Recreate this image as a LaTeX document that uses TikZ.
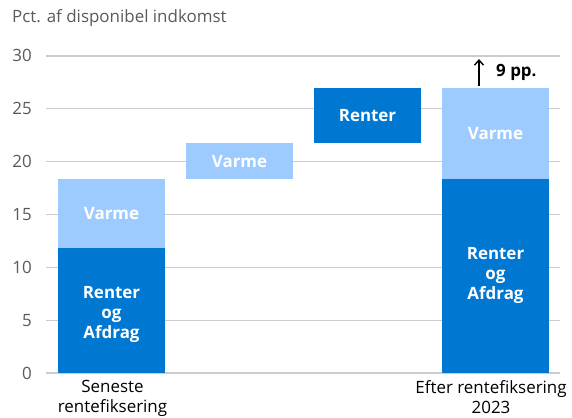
\documentclass[tikz,border=0pt]{standalone}
\usepackage{fontspec}
\setmainfont[Ligatures=NoCommon]{Open Sans}
\usetikzlibrary{arrows.meta}
\definecolor{darkblue}{RGB}{0,120,210}
\definecolor{lightblue}{RGB}{158,203,255}
\definecolor{gridgray}{RGB}{204,204,204}
\definecolor{textgray}{RGB}{90,90,90}
\begin{document}
\begin{tikzpicture}[x=1bp,y=10.57bp,font=\fontsize{17}{20}\selectfont]
\tikzstyle{tick}=[anchor=east, text=textgray, inner sep=0pt];
\tikzstyle{lab}=[text=white, font=\fontsize{17}{20}\selectfont\bfseries, align=center];
\tikzstyle{cat}=[anchor=north, align=center, inner sep=0pt, font=\fontsize{17}{20}\selectfont];
\useasboundingbox (0,-4.163) rectangle (572,35.29);
% grid and y ticks
\foreach \v in {0,5,...,30} {
  \draw [gridgray, line width=1.3bp] (46,\v) -- (560,\v);
  \node [tick] (t\v) at (32,\v) {\v};
}
\node [anchor=west, text=textgray, inner sep=0pt] (title) at (12,33.6) {Pct. af disponibel indkomst};
% bars
\fill [darkblue] (58,0) rectangle (165,11.83);
\fill [lightblue] (58,11.83) rectangle (165,18.35);
\fill [lightblue] (186,18.35) rectangle (293,21.76);
\fill [darkblue] (314,21.76) rectangle (421,26.96);
\fill [darkblue] (442,0) rectangle (549,18.35);
\fill [lightblue] (442,18.35) rectangle (549,26.96);
% bar labels
\node [lab] (v1) at (111.5,5.55) {Renter\\og\\Afdrag};
\node [lab] (v2) at (111.5,15.1) {Varme};
\node [lab] (v3) at (239.5,20.05) {Varme};
\node [lab] (v4) at (367.5,24.36) {Renter};
\node [lab] (v5) at (495.5,9.2) {Renter\\og\\Afdrag};
\node [lab] (v6) at (495.5,22.65) {Varme};
% change marker
\coordinate (a1) at (479,27.2);
\coordinate (a2) at (479,29.7);
\draw [-{Straight Barb[length=5bp,width=9bp]}, line width=1.4bp] (a1) -- (a2);
\node [anchor=west, font=\fontsize{17}{20}\selectfont\bfseries, inner sep=0pt] (pp) at (496,28.4) {9 pp.};
% categories
\node [cat] (c1) at (112.5,-0.7) {Seneste\\rentefiksering};
\node [cat] (c2) at (491,-0.7) {Efter rentefiksering\\2023};
\end{tikzpicture}
\end{document}
